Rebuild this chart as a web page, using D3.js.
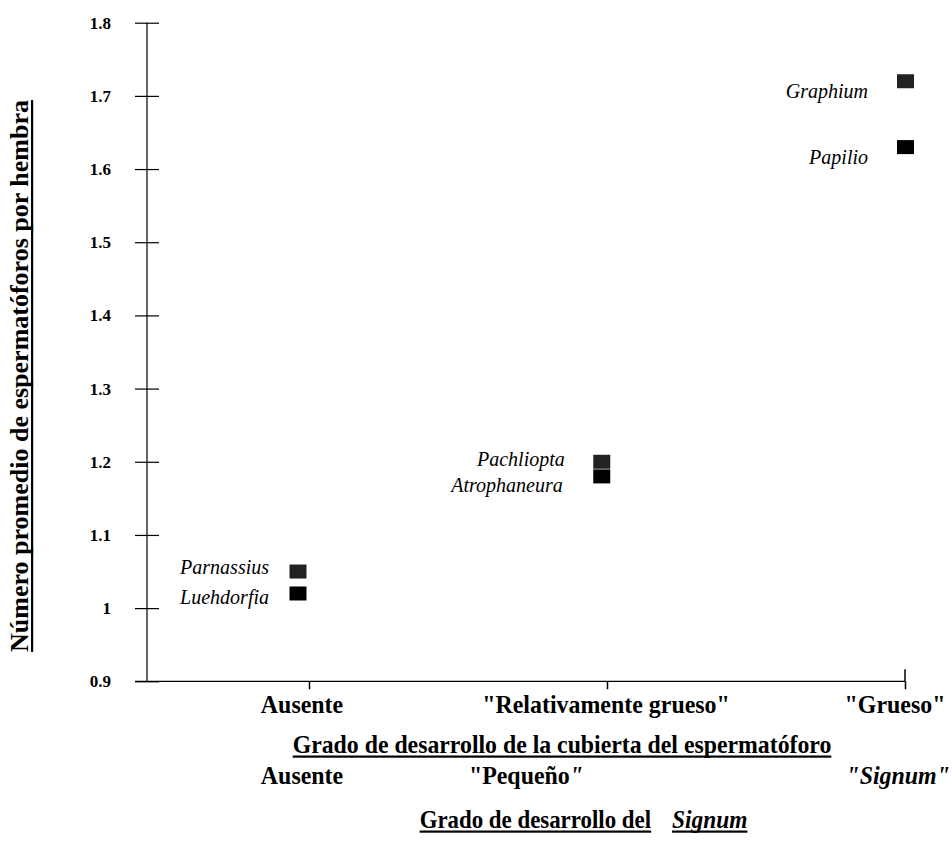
<!DOCTYPE html>
<html><head><meta charset="utf-8">
<script src="https://cdn.jsdelivr.net/npm/d3@7"></script>
<style>
body{margin:0;background:#fff;}
text{font-family:"Liberation Serif","Times New Roman",serif;fill:#000;}
</style></head>
<body><svg id="c" width="952" height="853"></svg>
<script>
// ---- data ----
const genera = ["Parnassius","Luehdorfia","Pachliopta","Atrophaneura","Graphium","Papilio"];
const groupIndex = [1,1,2,2,3,3];
const spermatophores = [1.05,1.02,1.20,1.18,1.72,1.63];
const markerShade = ["#222","#000","#222","#000","#222","#000"];
const yTicks = [0.9,1,1.1,1.2,1.3,1.4,1.5,1.6,1.7,1.8];
const coverCategories = ["Ausente","\"Relativamente grueso\"","\"Grueso\""];
const signumCategories = ["Ausente","\"Pequeño","\"Signum\""];
const yTitle = "Número promedio de espermatóforos por hembra";
const xTitle = "Grado de desarrollo de la cubierta del espermatóforo";
const x2TitleA = "Grado de desarrollo del";
const x2TitleB = "Signum";

// ---- layout ----
const svg = d3.select("#c");
const y = d3.scaleLinear().domain([0.9,1.8]).range([681.3,22.7]);
const xPts = d3.scaleLinear().domain([1,3]).range([298,905.5]);
const xTick = d3.scalePoint().domain(coverCategories).range([309,905]);

// condensed bold text helper: draws at size fs, squeezed horizontally by sx
function ctext(x, yy, str, opt){
  const o = Object.assign({fs:26, sx:0.92, anchor:"middle", italic:false, weight:"bold"}, opt||{});
  const g = svg.append("g").attr("transform",`translate(${x},${yy}) scale(${o.sx},1)`);
  const t = g.append("text").attr("x",0).attr("y",0).attr("text-anchor",o.anchor)
    .attr("font-size",o.fs).attr("font-weight",o.weight)
    .attr("font-style",o.italic?"italic":"normal").text(str);
  return {g,t};
}
function underlineOf(obj, dy, th){
  const b = obj.t.node().getBBox();
  obj.g.append("rect").attr("x",b.x).attr("width",b.width).attr("y",dy).attr("height",th).attr("fill","#000");
}

// y axis
const yAxis = svg.append("g").attr("transform","translate(147,0)")
  .call(d3.axisLeft(y).tickValues(yTicks).tickSize(12).tickPadding(24)
    .tickFormat(d=>d3.format("")(+d.toFixed(1))));
yAxis.select(".domain").remove();
yAxis.selectAll(".tick line").attr("x1",-12).attr("x2",12).attr("stroke","#000").attr("stroke-width",1.2);
yAxis.selectAll(".tick text").attr("font-size",17).attr("font-weight","bold")
  .attr("font-family","Liberation Serif").attr("fill","#000");
svg.append("line").attr("x1",147).attr("x2",147).attr("y1",y(1.8)).attr("y2",y(0.9))
  .attr("stroke","#000").attr("stroke-width",1.2);

// x axis
const xAxis = svg.append("g").attr("transform","translate(0,"+y(0.9)+")")
  .call(d3.axisBottom(xTick).tickSize(8).tickFormat(""));
xAxis.select(".domain").remove();
xAxis.selectAll(".tick line").attr("stroke","#000").attr("stroke-width",1.5);
svg.append("line").attr("x1",135).attr("x2",905).attr("y1",y(0.9)).attr("y2",y(0.9))
  .attr("stroke","#000").attr("stroke-width",1.2);
svg.append("line").attr("x1",905).attr("x2",905).attr("y1",y(0.9)-12).attr("y2",y(0.9))
  .attr("stroke","#000").attr("stroke-width",1.5);

// category labels
const catX = [302,606,895];
coverCategories.forEach((c,i)=>{ ctext(catX[i], 713, c); });
ctext(302, 784, signumCategories[0]);
const s1 = ctext(526, 784, signumCategories[1]);
s1.t.append("tspan").attr("font-style","italic").text("\"");
ctext(950, 784, signumCategories[2], {anchor:"end", italic:true});

// x title
const xt = ctext(562, 753, xTitle, {sx:0.915});
underlineOf(xt, 2.5, 2.2);

// second title
const t2a = ctext(651, 828, x2TitleA, {anchor:"end", sx:0.88});
underlineOf(t2a, 2.5, 2.2);
const t2b = ctext(672, 828, x2TitleB, {anchor:"start", italic:true, sx:0.9});
underlineOf(t2b, 2.5, 2.2);

// y title
const ytg = svg.append("g").attr("transform","translate(28,376) rotate(-90)");
const yt = ytg.append("text").attr("x",0).attr("y",0).attr("text-anchor","middle")
  .attr("font-size",26).attr("font-weight","bold").text(yTitle);
const yb = yt.node().getBBox();
ytg.append("rect").attr("x",yb.x).attr("width",yb.width).attr("y",3).attr("height",2.2).attr("fill","#000");

// markers
const sq = {w:17,h:14};
genera.forEach((g,i)=>{
  svg.append("rect").attr("x",xPts(groupIndex[i])-sq.w/2).attr("y",y(spermatophores[i])-sq.h/2)
    .attr("width",sq.w).attr("height",sq.h).attr("fill",markerShade[i]);
});
// labels (annotation offsets relative to marker)
const labelDx = [-29,-29,-37,-39,-37.5,-37.5];
const labelDy = [2,11,4,16,17,17];
genera.forEach((g,i)=>{
  svg.append("text").attr("x",xPts(groupIndex[i])+labelDx[i]).attr("y",y(spermatophores[i])+labelDy[i])
    .attr("text-anchor","end").attr("font-size",20).attr("font-style","italic").text(g);
});
</script></body></html>
